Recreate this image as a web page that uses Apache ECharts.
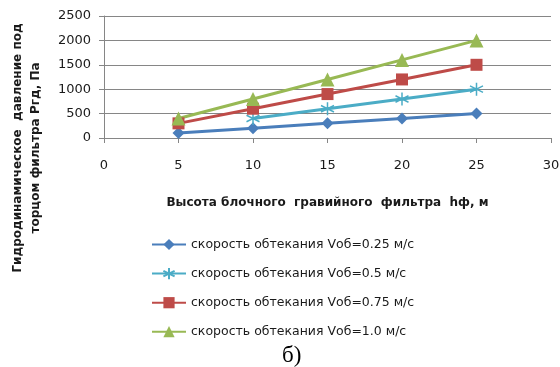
<!DOCTYPE html>
<html>
<head>
<meta charset="utf-8">
<script src="https://cdn.jsdelivr.net/npm/echarts@6/dist/echarts.min.js"></script>
<style>
  html, body { margin: 0; padding: 0; background: #fff; }
  #chart { width: 560px; height: 367px; }
</style>
</head>
<body>
<div id="chart"></div>
<script>
// Filter height, m
const heights = [5, 10, 15, 20, 25];
// Hydrodynamic pressure, Pa, for each flow velocity
const v025 = [100, 200, 300, 400, 500];
const v05  = [null, 400, 600, 800, 1000];
const v075 = [300, 600, 900, 1200, 1500];
const v10  = [400, 800, 1200, 1600, 2000];
const seriesNames = [
  'скорость обтекания Vоб=0.25 м/с',
  'скорость обтекания Vоб=0.5 м/с',
  'скорость обтекания Vоб=0.75 м/с',
  'скорость обтекания Vоб=1.0 м/с'
];
const xTicks = { min: 0, max: 30, interval: 5 };
const yTicks = { min: 0, max: 2500, interval: 500 };
const xTitle = 'Высота блочного  гравийного  фильтра  hф, м';
const yTitleLines = ['Гидродинамическое  давление под', 'торцом фильтра Ргд, Па'];

const font = '"DejaVu Sans", "Open Sans", sans-serif';
const pairs = arr => heights.map((h, i) => [h, arr[i]]);
const asterisk = 'path://M10,0L10,20M1.5,5L18.5,15M1.5,15L18.5,5';

function lineSeries(name, data, color, symbol, size, extra) {
  return Object.assign({
    name, type: 'line', data: pairs(data),
    symbol, symbolSize: size,
    lineStyle: { color, width: 3 },
    itemStyle: { color },
    connectNulls: false,
    animation: false
  }, extra || {});
}

// rotated two-line title for the value axis
const yTitle = yTitleLines.map((t, i) => ({
  type: 'text', x: 18 + i * 18, y: 148, rotation: Math.PI / 2,
  style: {
    text: t, fontFamily: font, fontWeight: 'bold', fontSize: 12, fill: '#1a1a1a',
    align: 'center', verticalAlign: 'middle',
    textAlign: 'center', textVerticalAlign: 'middle'
  }
}));

const chart = echarts.init(document.getElementById('chart'));
chart.setOption({
  animation: false,
  grid: { left: 104, right: 9, top: 16, bottom: 229, containLabel: false, outerBoundsMode: 'none' },
  xAxis: {
    type: 'value', min: xTicks.min, max: xTicks.max, interval: xTicks.interval,
    name: xTitle,
    nameLocation: 'middle', nameGap: 59,
    nameTextStyle: { fontFamily: font, fontWeight: 'bold', fontSize: 12, color: '#1a1a1a' },
    axisLine: { lineStyle: { color: '#868686', width: 1 } },
    axisTick: { show: true, length: 5, lineStyle: { color: '#868686' } },
    axisLabel: { margin: 21, fontFamily: font, fontSize: 13, color: '#1a1a1a', formatter: v => String(v) },
    splitLine: { show: false }
  },
  yAxis: {
    type: 'value', min: yTicks.min, max: yTicks.max, interval: yTicks.interval,
    axisLine: { show: true, lineStyle: { color: '#868686', width: 1 } },
    axisTick: { show: true, length: 5, lineStyle: { color: '#868686' } },
    axisLabel: { margin: 13, fontFamily: font, fontSize: 13, color: '#1a1a1a', formatter: v => String(v) },
    splitLine: { show: true, lineStyle: { color: '#868686', width: 1 } }
  },
  legend: {
    orient: 'vertical', left: 146, top: 233, itemGap: 16,
    itemWidth: 34, itemHeight: 14,
    textStyle: { fontFamily: font, fontSize: 12.5, color: '#1a1a1a' },
    data: seriesNames
  },
  series: [
    lineSeries(seriesNames[0], v025, '#4a7ebb', 'diamond', 12),
    lineSeries(seriesNames[1], v05, '#4bacc6', asterisk, 13,
      { itemStyle: { color: 'rgba(0,0,0,0)', borderColor: '#4bacc6', borderWidth: 1.5 } }),
    lineSeries(seriesNames[2], v075, '#be4b48', 'rect', 12),
    lineSeries(seriesNames[3], v10, '#98b954', 'triangle', 14)
  ],
  graphic: yTitle.concat([{
    type: 'text', left: 282, top: 344,
    style: { text: 'б)', fontFamily: '"Liberation Serif", "Times New Roman", serif', fontSize: 23, fill: '#000' }
  }])
});
</script>
</body>
</html>
